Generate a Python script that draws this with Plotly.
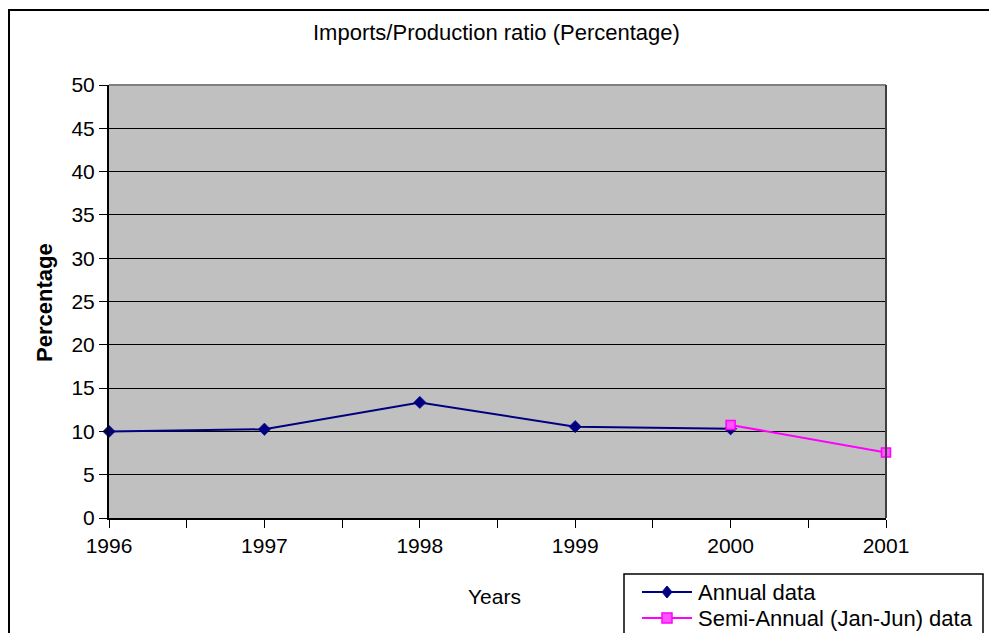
import plotly.graph_objects as go

years_annual = [1996, 1997, 1998, 1999, 2000]
annual_values = [10.0, 10.25, 13.35, 10.55, 10.3]
years_semi = [2000, 2001]
semi_values = [10.75, 7.55]
y_ticks = [0, 5, 10, 15, 20, 25, 30, 35, 40, 45, 50]
x_tick_vals = [1996, 1996.5, 1997, 1997.5, 1998, 1998.5, 1999, 1999.5, 2000, 2000.5, 2001]
x_tick_text = ["1996", "", "1997", "", "1998", "", "1999", "", "2000", "", "2001"]
series_names = ["Annual data", "Semi-Annual (Jan-Jun) data"]

NAVY = "#000080"
MAGENTA = "#FF00FF"

OFF = 8  # browser body margin
W, H = 997 - OFF, 633 - OFF
L, R, T, B = 109, 886, 85, 518  # screen pixel plot-area edges
pw, ph = R - L, B - T

def px(x):
    return (x - L) / pw

def py(y):
    return (B - y) / ph

fig = go.Figure()
fig.add_trace(go.Scatter(
    x=years_annual, y=annual_values, name=series_names[0], mode="lines+markers",
    line=dict(color=NAVY, width=2),
    marker=dict(symbol="diamond", size=9.5, color=NAVY, line=dict(color=NAVY, width=0.5)),
    cliponaxis=False, showlegend=False,
))
fig.add_trace(go.Scatter(
    x=years_semi, y=semi_values, name=series_names[1], mode="lines+markers",
    line=dict(color=MAGENTA, width=2),
    marker=dict(symbol="square", size=9, color="#FF55FF", line=dict(color=MAGENTA, width=1.5)),
    cliponaxis=False, showlegend=False,
))

fig.update_layout(
    width=W, height=H,
    margin=dict(l=L - OFF, r=W - (R - OFF), t=T - OFF, b=H - (B - OFF), pad=0,
                autoexpand=False),
    paper_bgcolor="white",
    plot_bgcolor="#C0C0C0",
    font=dict(family="Liberation Sans, Arial, sans-serif", size=21, color="black"),
    xaxis=dict(
        range=[1996, 2001], tickmode="array",
        tickvals=x_tick_vals, ticktext=x_tick_text,
        ticks="outside", ticklen=8, tickcolor="black", tickwidth=1,
        showgrid=False, zeroline=False, showline=True, linecolor="black", linewidth=2,
        automargin=False,
    ),
    yaxis=dict(
        range=[0, 50], tickvals=y_ticks,
        ticks="outside", ticklen=8, tickcolor="black",
        showgrid=True, gridcolor="black", gridwidth=1,
        zeroline=False, showline=True, linecolor="black", linewidth=2,
        automargin=False,
    ),
    showlegend=False,
)

fig.add_annotation(text="Imports/Production ratio (Percentage)", xref="paper", yref="paper",
                   x=px(496), y=py(33), xanchor="center", yanchor="middle",
                   showarrow=False, font=dict(size=22))
fig.add_annotation(text="Years", xref="paper", yref="paper",
                   x=px(494), y=py(596), xanchor="center", yanchor="middle",
                   showarrow=False, font=dict(size=21))
fig.add_annotation(text="<b>Percentage</b>", xref="paper", yref="paper",
                   x=px(44), y=py(303), xanchor="center", yanchor="middle",
                   textangle=-90, showarrow=False, font=dict(size=22))

# plot area top/right border
fig.add_shape(type="line", xref="paper", yref="paper", x0=0, x1=1, y0=1, y1=1,
              line=dict(color="#808080", width=2))
fig.add_shape(type="line", xref="paper", yref="paper", x0=1, x1=1, y0=0, y1=1,
              line=dict(color="#404040", width=2))
# outer chart border
fig.add_shape(type="rect", xref="paper", yref="paper",
              x0=px(9), x1=px(1010), y0=py(645), y1=py(10),
              line=dict(color="black", width=2), fillcolor="rgba(0,0,0,0)", layer="below")

# legend box (drawn manually to match row spacing)
fig.add_shape(type="rect", xref="paper", yref="paper",
              x0=px(624), x1=px(983), y0=py(650), y1=py(574),
              line=dict(color="black", width=1.5), fillcolor="white", layer="above")
rows_y = [592, 618]
colors = [NAVY, MAGENTA]
for i, (yy, c, name) in enumerate(zip(rows_y, colors, series_names)):
    fig.add_shape(type="line", xref="paper", yref="paper",
                  x0=px(642), x1=px(692), y0=py(yy), y1=py(yy),
                  line=dict(color=c, width=2), layer="above")
    if i == 0:
        path = "M {} {} L {} {} L {} {} L {} {} Z".format(
            px(667), py(yy - 6), px(672), py(yy), px(667), py(yy + 6), px(662), py(yy))
        fig.add_shape(type="path", xref="paper", yref="paper", path=path,
                      fillcolor=c, line=dict(color=c, width=1), layer="above")
    else:
        fig.add_shape(type="rect", xref="paper", yref="paper",
                      x0=px(662), x1=px(672), y0=py(yy + 5), y1=py(yy - 5),
                      fillcolor="#FF55FF", line=dict(color=c, width=1.5), layer="above")
    fig.add_annotation(text=name, xref="paper", yref="paper",
                       x=px(696), y=py(yy), xanchor="left", yanchor="middle",
                       showarrow=False, font=dict(size=22))

fig.write_html("out.html")
